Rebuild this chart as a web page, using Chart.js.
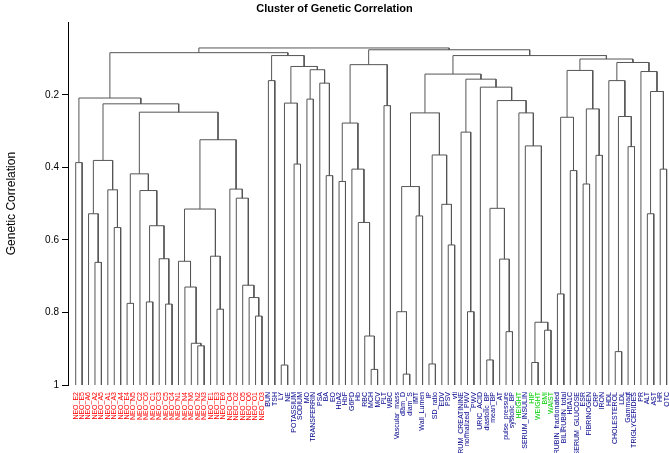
<!DOCTYPE html>
<html><head><meta charset="utf-8">
<script src="https://cdn.jsdelivr.net/npm/chart.js@4/dist/chart.umd.min.js"></script>
<style>html,body{margin:0;padding:0;background:#fff;overflow:hidden}#wrap{width:669px;height:453px;position:relative}</style>
</head><body><div id="wrap"><canvas id="c"></canvas></div>
<script>
// Leaves in dendrogram order
const leafLabels = [
  "NEO_E2","NEO_E5","NEO_A6","NEO_A2","NEO_A5","NEO_A1","NEO_A3","NEO_A4","NEO_E4","NEO_N5",
  "NEO_C2","NEO_C6","NEO_C1","NEO_C3","NEO_C5","NEO_C4","NEO_N1","NEO_N4","NEO_N6","NEO_N2",
  "NEO_N3","NEO_E1","NEO_E3","NEO_E6","NEO_O4","NEO_O2","NEO_O5","NEO_O6","NEO_O1","NEO_O3",
  "BUN","TSH","LY","NE","POTASSIUM","SODIUM","MO","TRANSFERRIN","PSA","BA",
  "EO","HbA2","HbF","G6PD","Hb","RBC","MCH","MCV","PLT","WBC",
  "Vascular_mass","diam_D","diam_S","IMT","Wall_Lumen","IP","SD_ratio","EDV","PSV","vti",
  "SERUM_CREATININE","normalized_PWV","PWV","URIC_ACID","diastolic_BP","mean_BP","AT","pulse_pressure","systolic_BP","HEIGHT",
  "SERUM_INSULIN","HIP","WEIGHT","BMI","WAIST","BILIRUBIN_fractionated","BILIRUBIN_total","HbA1C","SERUM_GLUCOSE","ESR",
  "FIBRINOGEN","CRP","IRON","HDL","CHOLESTEROL","LDL","Gammagt","TRIGLYCERIDES","PR","ALT",
  "AST","HR","QTC"
];
const anthropometricLabels = ["HEIGHT","HIP","WEIGHT","BMI","WAIST"];
// hclust-style merges: negative = leaf (1-based), positive = earlier merge (1-based)
const mergeLeft = [
  -1,-4,-3,-7,-6,3,-9,-12,-15,-14, 8,-11,7,-20,-19,-18,-17,-23,-22,17,
  -29,-28,-27,-26,-25,20,13,6,1,-31, -33,-35,31,-37,-40,-39,34,33,30,29,
  -42,-47,-46,-45,-44,41,-49,46,-52,-51, -54,50,-56,-59,-58,53,52,-62,-61,-65,
  -68,-67,60,-72,-74,64,-71,-70,63,-64, 59,57,-76,-78,73,-80,-82,76,75,-85,
  -87,80,-84,-90,-92,84,-89,83,79,72, 48,40
];
const mergeRight = [
  -2,-5,2,-8,4,5,-10,-13,-16,9, 10,11,12,-21,14,15,16,-24,18,19,
  -30,21,22,23,24,25,26,27,28,-32, -34,-36,32,-38,-41,35,36,37,38,39,
  -43,-48,42,43,44,45,-50,47,-53,49, -55,51,-57,-60,54,55,56,-63,58,-66,
  -69,61,62,-73,-75,65,66,67,68,69, 70,71,-77,-79,74,-81,-83,77,78,-86,
  -88,81,82,-91,-93,85,86,87,88,89, 90,91
];
const mergeHeight = [
  0.387,0.662,0.528,0.566,0.462,0.381,0.775,0.771,0.777,0.652, 0.561,0.464,0.418,0.892,0.885,0.730,0.659,0.791,0.645,0.515,
  0.810,0.759,0.725,0.485,0.460,0.324,0.248,0.225,0.209,0.161, 0.945,0.391,0.223,0.212,0.423,0.168,0.131,0.122,0.092,0.084,
  0.439,0.957,0.865,0.552,0.405,0.278,0.230,0.117,0.970,0.798, 0.534,0.453,0.942,0.614,0.502,0.366,0.250,0.798,0.303,0.931,
  0.853,0.653,0.513,0.938,0.849,0.827,0.341,0.250,0.216,0.179, 0.157,0.143,0.749,0.409,0.262,0.446,0.367,0.239,0.133,0.908,
  0.343,0.260,0.161,0.528,0.405,0.191,0.136,0.111,0.1015,0.092, 0.076,0.071
];
const yTickValues = [0.2,0.4,0.6,0.8,1];
const leafHeight = 1;

function labelColor(i){
  const l = leafLabels[i];
  if (l && l.startsWith("NEO_")) return "#FF0000";
  if (anthropometricLabels.includes(l)) return "#00CD00";
  return "#00008B";
}

const nodeX = [];
function childPos(ref){
  if (ref < 0) return {x: -ref - 1, h: leafHeight};
  return {x: nodeX[ref - 1], h: mergeHeight[ref - 1]};
}
const datasets = [];
for (let i = 0; i < mergeHeight.length; i++){
  const a = childPos(mergeLeft[i]), b = childPos(mergeRight[i]), h = mergeHeight[i];
  nodeX[i] = (a.x + b.x) / 2;
  datasets.push({
    data: [{x:a.x,y:a.h},{x:a.x,y:h},{x:b.x,y:h},{x:b.x,y:b.h}],
    showLine: true, borderColor: "#555", borderWidth: 1, pointRadius: 0, fill: false, tension: 0
  });
}

Chart.defaults.font.family = "'Liberation Sans', Arial, sans-serif";
new Chart(document.getElementById("c"), {
  type: "scatter",
  data: { datasets },
  options: {
    responsive: true, maintainAspectRatio: false, animation: false,
    layout: { padding: 0 },
    plugins: {
      legend: { display: false }, tooltip: { enabled: false },
      title: { display: true, text: "Cluster of Genetic Correlation", color: "#000",
               font: { size: 11, weight: "bold" }, padding: { top: 2, bottom: 7 } }
    },
    scales: {
      x: {
        type: "linear", min: -1.2, max: 92.37,
        grid: { display: false, drawTicks: false }, border: { display: false },
        afterBuildTicks: s => { s.ticks = leafLabels.map((_, i) => ({ value: i })); },
        afterFit: s => { s.height = 68; s.paddingLeft = 0; s.paddingRight = 0; },
        ticks: { autoSkip: false, maxRotation: 90, minRotation: 90, padding: 7,
                 font: { size: 7 }, color: ctx => labelColor(ctx.index),
                 callback: (v, i) => leafLabels[i] }
      },
      y: {
        type: "linear", reverse: true, min: 0, max: 1,
        afterBuildTicks: s => { s.ticks = yTickValues.map(v => ({ value: v })); },
        afterFit: s => { s.width = 68; s.paddingTop = 0; s.paddingBottom = 0; },
        grid: { drawOnChartArea: false, tickLength: 6, color: "#000" },
        border: { display: true, color: "#000" },
        ticks: { font: { size: 10 }, color: "#000", padding: 3,
                 callback: v => (v === 1 ? "1" : v.toFixed(1)) },
        title: { display: true, text: "Genetic Correlation", color: "#000", font: { size: 12 }, padding: 4 }
      }
    }
  }
});
</script></body></html>
